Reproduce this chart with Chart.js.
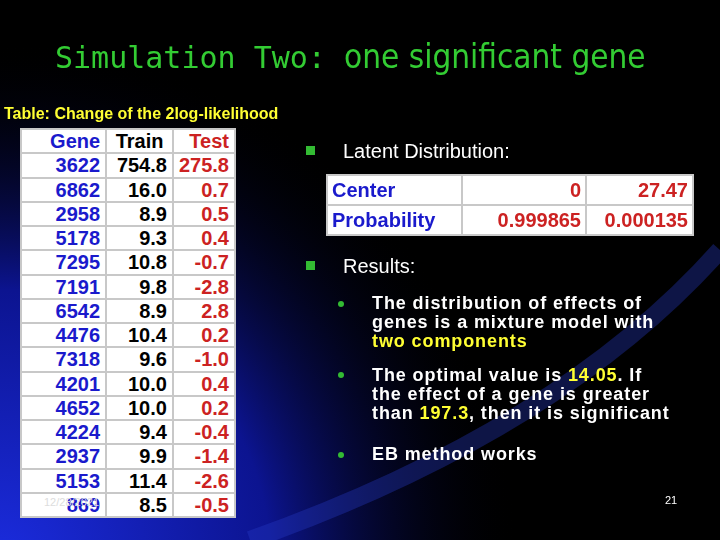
<!DOCTYPE html>
<html>
<head>
<meta charset="UTF-8">
<script src="https://cdn.jsdelivr.net/npm/chart.js"></script>
<style>
  body { margin: 0; width: 720px; height: 540px; overflow: hidden; font-family: "Liberation Sans", Arial, sans-serif; }
  #wrap { position: relative; width: 720px; height: 540px; }
  canvas { position: absolute; left: 0; top: 0; }
  .abs { position: absolute; }
  table { border-collapse: collapse; background: #fff; font-weight: bold; }
  td { border: 2px solid #c8c8c8; padding: 0 4px; box-sizing: border-box; }
  #t1 td { height: 24.25px; font-size: 20px; text-align: right; line-height: 20px; padding: 0 5px; }
  #t2 td { height: 30px; font-size: 20px; line-height: 26px; }
  .sq { width: 9px; height: 9px; background: #33bb33; }
  .txt { color: #fff; font-size: 20px; }
  .dot { width: 6px; height: 6px; border-radius: 3px; background: #33bb33; }
  .sub { color: #fff; font-weight: bold; font-size: 18px; line-height: 19px; letter-spacing: 0.9px; }
  .y { color: #ffff33; }
</style>
</head>
<body>
<div id="wrap">
  <canvas id="bg" width="720" height="540"></canvas>
  <div class="abs" style="left:55px;top:37px;white-space:nowrap;color:#33cc33;font-family:'DejaVu Sans Mono',monospace;font-size:30px;">Simulation Two: <span style="font-family:'DejaVu Sans Condensed','DejaVu Sans',sans-serif;font-size:33px;">one significant gene</span></div>
  <div class="abs" style="left:4px;top:105px;color:#ffff33;font-weight:bold;font-size:16px;">Table: Change of the 2log-likelihood</div>
  <table id="t1" class="abs" style="left:20px;top:128px;width:216px;"></table>
  <div class="abs sq" style="left:306px;top:146px;"></div>
  <div class="abs txt" style="left:343px;top:140px;">Latent Distribution:</div>
  <table id="t2" class="abs" style="left:326px;top:174px;width:368px;"></table>
  <div class="abs sq" style="left:306px;top:261px;"></div>
  <div class="abs txt" style="left:343px;top:255px;">Results:</div>
  <div class="abs dot" style="left:338px;top:301px;"></div>
  <div class="abs sub" style="left:372px;top:294px;">The distribution of effects of<br>genes is a mixture model with<br><span class="y">two components</span></div>
  <div class="abs dot" style="left:338px;top:372px;"></div>
  <div class="abs sub" style="left:372px;top:366px;">The optimal value is <span class="y">14.05</span>. If<br>the effect of a gene is greater<br>than <span class="y">197.3</span>, then it is significant</div>
  <div class="abs dot" style="left:338px;top:452px;"></div>
  <div class="abs sub" style="left:372px;top:445px;">EB method works</div>
  <div class="abs" style="left:44px;top:496px;color:#ddd;font-size:11px;">12/28/2021</div>
  <div class="abs" style="left:665px;top:494px;color:#fff;font-size:11px;">21</div>
</div>
<script>
// 左表資料
const genes = ["3622","6862","2958","5178","7295","7191","6542","4476","7318","4201","4652","4224","2937","5153","869"];
const train = ["754.8","16.0","8.9","9.3","10.8","9.8","8.9","10.4","9.6","10.0","10.0","9.4","9.9","11.4","8.5"];
const test = ["275.8","0.7","0.5","0.4","-0.7","-2.8","2.8","0.2","-1.0","0.4","0.2","-0.4","-1.4","-2.6","-0.5"];
// 潛在分布
const distLabels = ["Center","Probability"];
const distA = ["0","0.999865"];
const distB = ["27.47","0.000135"];

let h = '<tr><td style="color:#1a1acc;width:86px">Gene</td><td style="color:#000;text-align:center;width:67px">Train</td><td style="color:#cc2222">Test</td></tr>';
genes.forEach((g, i) => {
  h += `<tr><td style="color:#1a1acc">${g}</td><td style="color:#000">${train[i]}</td><td style="color:#cc2222">${test[i]}</td></tr>`;
});
document.getElementById('t1').innerHTML = h;
let h2 = '';
distLabels.forEach((l, i) => {
  h2 += `<tr><td style="color:#1a1acc;width:135px">${l}</td><td style="color:#cc2222;text-align:right;width:124px">${distA[i]}</td><td style="color:#cc2222;text-align:right">${distB[i]}</td></tr>`;
});
document.getElementById('t2').innerHTML = h2;

// 背景
const bgPlugin = {
  id: 'bg',
  beforeDraw(chart) {
    const c = chart.ctx;
    c.save();
    c.fillStyle = '#000';
    c.fillRect(0, 0, 720, 540);
    const g = c.createRadialGradient(0, 560, 20, 0, 560, 520);
    g.addColorStop(0, '#1a2ad8');
    g.addColorStop(0.5, '#0c1490');
    g.addColorStop(1, 'rgba(0,0,0,0)');
    c.fillStyle = g;
    c.fillRect(0, 0, 720, 540);
    c.strokeStyle = 'rgba(40,60,200,0.35)';
    c.lineWidth = 18;
    c.beginPath();
    c.moveTo(250, 540);
    c.quadraticCurveTo(560, 430, 720, 250);
    c.stroke();
    c.restore();
  }
};
new Chart(document.getElementById('bg'), {
  type: 'line',
  data: { labels: [], datasets: [] },
  options: {
    responsive: false, animation: false,
    plugins: { legend: { display: false }, tooltip: { enabled: false } },
    scales: { x: { display: false }, y: { display: false } }
  },
  plugins: [bgPlugin]
});
</script>
</body>
</html>
